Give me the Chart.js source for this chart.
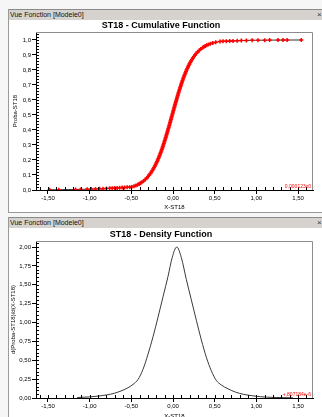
<!DOCTYPE html>
<html>
<head>
<meta charset="utf-8">
<script src="https://cdn.jsdelivr.net/npm/chart.js@4.4.0/dist/chart.umd.min.js"></script>
<style>
  html, body { margin: 0; padding: 0; }
  body { width: 322px; height: 417px; overflow: hidden; background: #f6f6f6; position: relative; font-family: 'Liberation Sans', Arial, sans-serif; }
  .win { position: absolute; left: 8px; width: 320px; border-left: 1px solid #9a9a9a; background: #fff; }
  .bar { height: 10px; border-top: 1px solid #8a8a8a; background: #d6d3ce; font-size: 7px; line-height: 10px; color: #111; padding-left: 1px; position: relative; white-space: nowrap; -webkit-font-smoothing: antialiased; }
  .bar .x { position: absolute; left: 308px; top: 0; font-size: 8px; color: #333; }
  canvas { display: block; }
</style>
</head>
<body>
<div class="win" style="top:9px; border-bottom:1px solid #9a9a9a;">
  <div class="bar">Vue Fonction [Modele0]<span class="x">×</span></div>
  <canvas id="cdf" width="313" height="192"></canvas>
</div>
<div class="win" style="top:217px;">
  <div class="bar">Vue Fonction [Modele0]<span class="x">×</span></div>
  <canvas id="pdf" width="313" height="189"></canvas>
</div>
<script>
// tick labels
const xTickVals = [-1.5, -1.0, -0.5, 0, 0.5, 1.0, 1.5];
const cdfTickVals = [0, 0.1, 0.2, 0.3, 0.4, 0.5, 0.6, 0.7, 0.8, 0.9, 1.0];
const pdfTickVals = [0, 0.25, 0.5, 0.75, 1.0, 1.25, 1.5, 1.75, 2.0];

// cumulative function: sample points (X-ST18, Proba-ST18)
const cdfX = [
  -1.48, -1.37, -1.17, -1.11, -1.03, -0.98, -0.93, -0.88, -0.84, -0.80,
  -0.76, -0.73, -0.70, -0.67, -0.64, -0.61, -0.58, -0.55, -0.52,
  -0.497, -0.468, -0.445, -0.425, -0.407, -0.392, -0.378, -0.354, -0.333, -0.315,
  -0.299, -0.285, -0.271, -0.259, -0.248, -0.237, -0.227, -0.217, -0.208, -0.200,
  -0.191, -0.183, -0.176, -0.168, -0.161, -0.154, -0.147, -0.141, -0.134, -0.128,
  -0.122, -0.116, -0.110, -0.104, -0.099, -0.093, -0.087, -0.082, -0.077, -0.071,
  -0.066, -0.061, -0.056, -0.050, -0.045, -0.040, -0.035, -0.030, -0.025, -0.020,
  -0.015, -0.010, -0.005, 0.000, 0.005, 0.010, 0.015, 0.020, 0.025, 0.030,
  0.036, 0.041, 0.046, 0.051, 0.057, 0.062, 0.067, 0.073, 0.079, 0.084,
  0.090, 0.096, 0.102, 0.108, 0.114, 0.121, 0.127, 0.134, 0.141, 0.148,
  0.156, 0.163, 0.171, 0.180, 0.188, 0.197, 0.207, 0.217, 0.228, 0.239,
  0.251, 0.265, 0.279, 0.295, 0.313, 0.334, 0.358, 0.372, 0.387, 0.405,
  0.425, 0.448, 0.477, 0.513, 0.564,
  0.60, 0.64, 0.68, 0.72, 0.77, 0.82, 0.88, 0.95, 1.02, 1.10,
  1.16, 1.26, 1.32, 1.37, 1.54
];
const cdfY = [
  0.001, 0.002, 0.003, 0.004, 0.005, 0.006, 0.007, 0.008, 0.009, 0.010,
  0.011, 0.012, 0.013, 0.014, 0.015, 0.016, 0.017, 0.018, 0.019,
  0.02, 0.025, 0.03, 0.035, 0.04, 0.045, 0.05, 0.06, 0.07, 0.08,
  0.09, 0.10, 0.11, 0.12, 0.13, 0.14, 0.15, 0.16, 0.17, 0.18,
  0.19, 0.20, 0.21, 0.22, 0.23, 0.24, 0.25, 0.26, 0.27, 0.28,
  0.29, 0.30, 0.31, 0.32, 0.33, 0.34, 0.35, 0.36, 0.37, 0.38,
  0.39, 0.40, 0.41, 0.42, 0.43, 0.44, 0.45, 0.46, 0.47, 0.48,
  0.49, 0.50, 0.51, 0.52, 0.53, 0.54, 0.55, 0.56, 0.57, 0.58,
  0.59, 0.60, 0.61, 0.62, 0.63, 0.64, 0.65, 0.66, 0.67, 0.68,
  0.69, 0.70, 0.71, 0.72, 0.73, 0.74, 0.75, 0.76, 0.77, 0.78,
  0.79, 0.80, 0.81, 0.82, 0.83, 0.84, 0.85, 0.86, 0.87, 0.88,
  0.89, 0.90, 0.91, 0.92, 0.93, 0.94, 0.95, 0.955, 0.96, 0.965,
  0.97, 0.975, 0.98, 0.985, 0.99,
  0.991, 0.992, 0.993, 0.994, 0.995, 0.996, 0.997, 0.998, 0.9985, 0.999,
  0.9992, 0.9994, 0.9996, 0.9998, 1.0
];

// density function: d(Proba-ST18)/d(X-ST18)
const pdfX = [
  -1.15, -1.0, -0.85, -0.75, -0.65, -0.55, -0.48, -0.42, -0.36, -0.30,
  -0.24, -0.18, -0.12, -0.06, -0.01, 0.045, 0.10, 0.16, 0.22, 0.28,
  0.34, 0.40, 0.46, 0.52, 0.58, 0.66, 0.75, 0.85, 0.95, 1.05,
  1.2, 1.44
];
const pdfY = [
  0.006, 0.015, 0.032, 0.05, 0.082, 0.13, 0.18, 0.245, 0.38, 0.58,
  0.81, 1.07, 1.34, 1.61, 1.86, 2.0, 1.86, 1.57, 1.30, 1.03,
  0.77, 0.54, 0.36, 0.233, 0.172, 0.122, 0.078, 0.048, 0.030, 0.017,
  0.008, 0.002
];

const FONT = "'Liberation Sans', Arial, sans-serif";
Chart.defaults.font.family = FONT;
Chart.defaults.color = '#000';

const comma = (v, d) => v.toFixed(d).replace('.', ',');

// frame, minor ticks, axis titles and the small red note
const axisDecor = {
  id: 'axisDecor',
  afterDraw(chart, args, o) {
    const { ctx, chartArea: a, scales: { x, y } } = chart;
    ctx.save();
    ctx.lineWidth = 1;
    ctx.strokeStyle = '#8c8c8c';
    ctx.beginPath();
    ctx.moveTo(a.left, a.top + 0.5);
    ctx.lineTo(a.right - 0.5, a.top + 0.5);
    ctx.lineTo(a.right - 0.5, a.bottom);
    ctx.stroke();

    ctx.strokeStyle = '#000';
    ctx.beginPath();
    for (let i = -16; i <= 16; i++) {
      const px = Math.round(x.getPixelForValue(i / 10)) + 0.5;
      ctx.moveTo(px, a.bottom);
      ctx.lineTo(px, a.bottom - 3);
    }
    for (let i = 0; i * o.minorY <= y.max; i++) {
      const py = Math.round(y.getPixelForValue(i * o.minorY)) + 0.5;
      ctx.moveTo(a.left, py);
      ctx.lineTo(a.left + 3, py);
    }
    ctx.stroke();

    ctx.fillStyle = '#000';
    ctx.font = '6px ' + FONT;
    ctx.textAlign = 'center';
    ctx.textBaseline = 'middle';
    ctx.fillText(o.xTitle, (a.left + a.right) / 2, o.xTitleY);
    ctx.translate(o.yTitleX, (a.top + a.bottom) / 2);
    ctx.rotate(-Math.PI / 2);
    ctx.fillText(o.yTitle, 0, 0);
    ctx.setTransform(1, 0, 0, 1, 0, 0);

    ctx.fillStyle = '#ff0000';
    ctx.font = '5px ' + FONT;
    ctx.textAlign = 'right';
    ctx.fillText(o.note, a.right - 2, a.bottom - 3);
    ctx.restore();
  }
};

function makeScales(yMin, yMax, yTicks, yDec, xHeight) {
  return {
    x: {
      type: 'linear', min: -1.644, max: 1.68,
      afterBuildTicks: s => { s.ticks = xTickVals.map(v => ({ value: v })); },
      afterFit: s => { s.height = xHeight; },
      grid: { drawOnChartArea: false, tickLength: 4, color: '#000' },
      border: { color: '#000' },
      ticks: { font: { size: 6 }, padding: 1, maxRotation: 0, callback: v => comma(v, 2) }
    },
    y: {
      type: 'linear', min: yMin, max: yMax,
      afterBuildTicks: s => { s.ticks = yTicks.map(v => ({ value: v })); },
      afterFit: s => { s.width = 27; },
      grid: { drawOnChartArea: false, tickLength: 4, color: '#000' },
      border: { color: '#000' },
      ticks: { font: { size: 6 }, padding: 1, callback: v => comma(v, yDec) }
    }
  };
}

new Chart(document.getElementById('cdf'), {
  type: 'scatter',
  data: {
    datasets: [{
      data: cdfX.map((v, i) => ({ x: v, y: cdfY[i] })),
      showLine: true,
      borderColor: '#333',
      borderWidth: 1,
      pointStyle: 'cross',
      pointRadius: 2,
      pointBorderColor: '#ff0000',
      pointBackgroundColor: '#ff0000',
      pointBorderWidth: 1.5
    }]
  },
  options: {
    responsive: false,
    animation: false,
    layout: { padding: { left: 0, right: 9, top: 0, bottom: 0 } },
    plugins: {
      legend: { display: false },
      tooltip: { enabled: false },
      title: {
        display: true, text: 'ST18 - Cumulative Function', color: '#000',
        font: { size: 9, weight: 'bold', lineHeight: 1 }, padding: { top: 1, bottom: 2 }
      },
      axisDecor: { minorY: 0.02, xTitle: 'X-ST18', yTitle: 'Proba-ST18', xTitleY: 187, yTitleX: 6, note: '0,000123x0' }
    },
    scales: makeScales(0, 1.0533, cdfTickVals, 1, 22)
  },
  plugins: [axisDecor]
});

new Chart(document.getElementById('pdf'), {
  type: 'scatter',
  data: {
    datasets: [{
      data: pdfX.map((v, i) => ({ x: v, y: pdfY[i] })),
      showLine: true,
      borderColor: '#3a3a3a',
      borderWidth: 1,
      pointRadius: 0,
      cubicInterpolationMode: 'monotone'
    }]
  },
  options: {
    responsive: false,
    animation: false,
    layout: { padding: { left: 0, right: 9, top: 0, bottom: 0 } },
    plugins: {
      legend: { display: false },
      tooltip: { enabled: false },
      title: {
        display: true, text: 'ST18 - Density Function', color: '#000',
        font: { size: 9, weight: 'bold', lineHeight: 1 }, padding: { top: 2, bottom: 2 }
      },
      axisDecor: { minorY: 0.05, xTitle: 'X-ST18', yTitle: 'd(Proba-ST18)/d(X-ST18)', xTitleY: 188, yTitleX: 4, note: '+,807184e-6' }
    },
    scales: makeScales(0, 2.0795, pdfTickVals, 2, 19)
  },
  plugins: [axisDecor]
});
</script>
</body>
</html>
